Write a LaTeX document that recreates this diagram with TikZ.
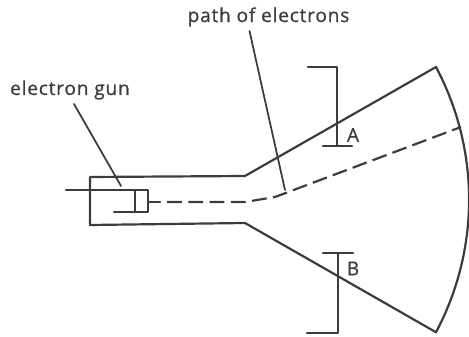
\documentclass[tikz,border=0pt]{standalone}
\usepackage{fontspec}
\setmainfont{Open Sans}[LetterSpace=4,FakeBold=0.6]
\usetikzlibrary{calc,positioning}
\tikzset{
  wire/.style      = {line width=1.25pt, draw=inkgray, line cap=round, line join=round},
  thinwire/.style  = {line width=1pt, draw=inkgray, line cap=round},
  beam/.style      = {line width=1.25pt, draw=inkgray, dash pattern=on 8.5pt off 3.6pt},
  textlabel/.style = {font=\fontsize{10.9}{13}\selectfont, text=inkgray, inner sep=0pt},
}
\definecolor{inkgray}{HTML}{3A3D3A}
\begin{document}
\begin{tikzpicture}
  \useasboundingbox (0,0) rectangle (9.38,6.72);

  % tube outline
  \draw[wire] (1.80,3.18) -- (4.90,3.20) -- (8.72,5.38)
       arc[start angle=28, end angle=-28, radius=5.65]
       -- (4.90,2.26) -- (1.80,2.22) -- cycle;

  % gun
  \draw[wire] (1.32,2.92) -- (2.96,2.92) -- (2.96,2.48) -- (2.28,2.48);
  \draw[wire] (2.70,2.92) -- (2.70,2.48);

  % electron path
  \coordinate (gunexit) at (2.96,2.68);
  \coordinate (bend) at (5.50,2.78);
  \coordinate (screenhit) at (9.22,4.18);
  \draw[wire] (gunexit) -- (3.20,2.68);
  \draw[beam] (3.34,2.68) -- (4.90,2.68) -- (bend) -- (screenhit);

  % plate A
  \draw[wire] (6.16,5.38) -- (6.74,5.38) -- (6.74,3.80);
  \draw[wire] (6.46,3.80) -- (7.04,3.80);
  \node[textlabel] (plateA) at (7.06,4.02) {A};

  % plate B
  \draw[wire] (6.46,1.66) -- (7.06,1.66);
  \draw[wire] (6.76,1.66) -- (6.76,0.06) -- (6.14,0.06);
  \node[textlabel] (plateB) at (7.06,1.35) {B};

  % labels and leaders
  \node[textlabel] (gunlabel) at (1.40,4.92) {electron gun};
  \node[textlabel] (pathlabel) at (5.37,6.38) {path of electrons};
  \coordinate (gunend) at (2.42,3.00);
  \coordinate (pathend) at (5.70,2.92);
  \draw[thinwire] ([xshift=0.08cm,yshift=-0.08cm]gunlabel.south) -- (gunend);
  \draw[thinwire] ([xshift=-0.38cm,yshift=-0.08cm]pathlabel.south) -- (pathend);
\end{tikzpicture}
\end{document}
